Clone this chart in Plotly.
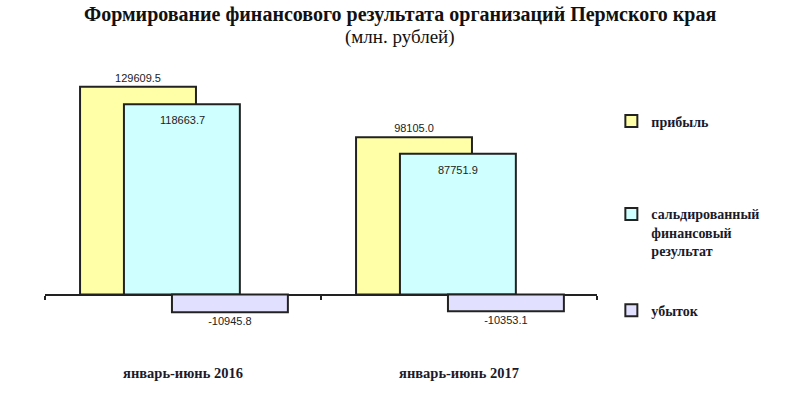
import plotly.graph_objects as go

categories = ["январь-июнь 2016", "январь-июнь 2017"]
profit = [129609.5, 98105.0]
balance = [118663.7, 87751.9]
loss = [-10945.8, -10353.1]
series_names = ["прибыль", "сальдированный<br>финансовый<br>результат", "убыток"]
title_text = "Формирование финансового результата организаций Пермского края"
subtitle_text = "(млн. рублей)"

serif = "Liberation Serif, Times New Roman, serif"
sans = "Liberation Sans, Arial, sans-serif"
outline = dict(color="#222222", width=2)
label_font = dict(family=sans, size=11, color="#222222")

fig = go.Figure()
fig.add_trace(go.Bar(
    x=categories, y=profit, name=series_names[0], width=0.42, offset=-0.373,
    marker=dict(color="#FFFFA8", line=outline),
    texttemplate="%{y:.1f}", textposition="outside", textfont=label_font,
    cliponaxis=False, legend="legend"))
fig.add_trace(go.Bar(
    x=categories, y=balance, name=series_names[1], width=0.42, offset=-0.214,
    marker=dict(color="#CFFFFF", line=outline),
    textposition="none", legend="legend2"))
fig.add_trace(go.Bar(
    x=categories, y=loss, name=series_names[2], width=0.42, offset=-0.04,
    marker=dict(color="#E2E0FF", line=outline),
    texttemplate="%{y:.1f}", textposition="outside", textfont=label_font,
    cliponaxis=False, legend="legend3"))

for c, v in zip(categories, balance):
    fig.add_annotation(x=c, y=v, xref="x", yref="y", text=f"{v:.1f}", showarrow=False,
                       xshift=-1, yshift=-16, yanchor="middle", font=label_font)

title_x = (400 - 45) / 552
fig.add_annotation(x=title_x, y=1, xref="paper", yref="paper", yshift=56,
                   text=f"<b>{title_text}</b>", showarrow=False, yanchor="middle",
                   font=dict(family=serif, size=20, color="#111111"))
fig.add_annotation(x=title_x, y=1, xref="paper", yref="paper", yshift=33,
                   text=subtitle_text, showarrow=False, yanchor="middle",
                   font=dict(family=serif, size=19, color="#111111"))

legend_common = dict(xanchor="left", yanchor="middle", bgcolor="rgba(0,0,0,0)",
                     font=dict(family=serif, size=14, color="#1a1a2a", weight="bold"),
                     valign="top", itemclick=False)

fig.update_layout(
    width=800, height=393,
    margin=dict(l=45, r=203, t=70, b=28),
    plot_bgcolor="white", paper_bgcolor="white",
    barmode="overlay",
    xaxis=dict(type="category", range=[-0.5, 1.5], showline=False, showgrid=False,
               ticks="", tickfont=dict(family=serif, size=14.5, color="#1a1a2a", weight="bold")),
    xaxis2=dict(overlaying="x", anchor="free", position=(365 - 297) / 295,
                range=[-0.5, 1.5], tickvals=[-0.5, 0.5, 1.5], showticklabels=False,
                ticks="outside", ticklen=4, tickcolor="#222222", tickwidth=1.5,
                showline=False, showgrid=False, zeroline=False),
    yaxis=dict(range=[-42000, 140000], showgrid=False, showticklabels=False,
               zeroline=True, zerolinecolor="#222222", zerolinewidth=1.5, showline=False),
    legend=dict(x=1.026, y=(365 - 122) / 295, **legend_common),
    legend2=dict(x=1.026, y=(365 - 234) / 295, **legend_common),
    legend3=dict(x=1.026, y=(365 - 313) / 295, **legend_common),
)
fig.add_trace(go.Scatter(x=[None], y=[None], xaxis="x2", showlegend=False, hoverinfo="skip"))

fig.write_html("out.html")
